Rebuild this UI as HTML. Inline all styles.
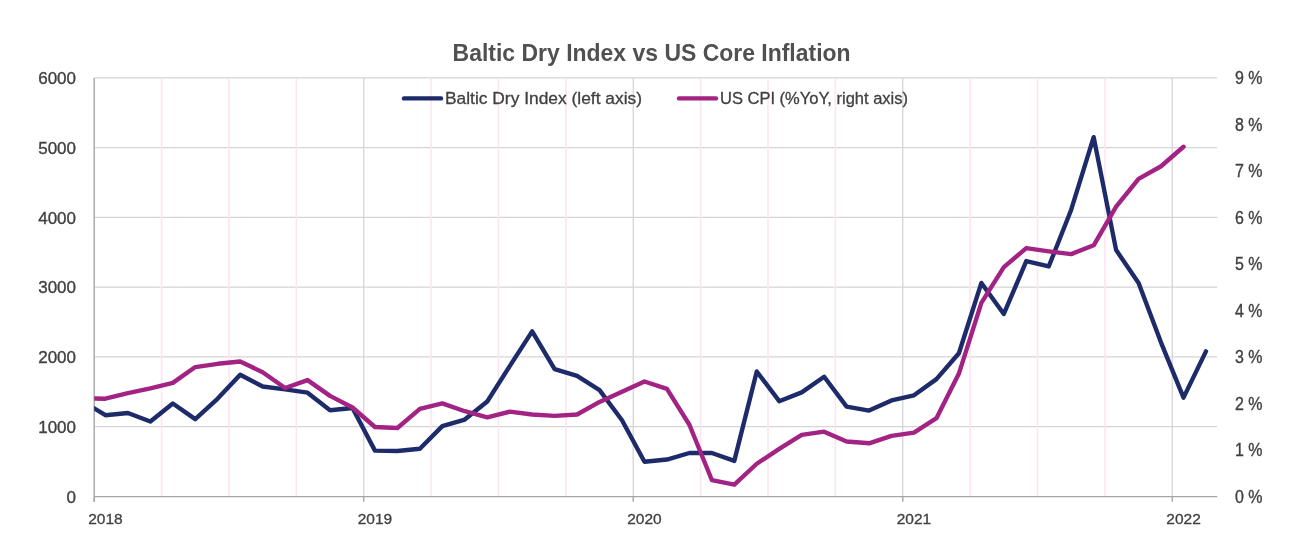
<!DOCTYPE html>
<html><head><meta charset="utf-8"><style>
html,body{margin:0;padding:0;background:#fff;}
svg{display:block;will-change:transform;}
text{font-family:"Liberation Sans",sans-serif;}
.g{stroke:#d5d5d5;stroke-width:1.3;}
.p{stroke:#fce5f2;stroke-width:1.6;}
.ax{stroke:#a6a6a6;stroke-width:1.4;}
.yl{font-size:17px;fill:#404040;stroke:#404040;stroke-width:0.35px;}
.rl{font-size:17.5px;fill:#404040;stroke:#404040;stroke-width:0.35px;}
.xl{font-size:15.5px;fill:#404040;stroke:#404040;stroke-width:0.3px;}
.lg{font-size:17px;fill:#404040;stroke:#404040;stroke-width:0.3px;}
.ser{fill:none;stroke-width:4.4;stroke-linejoin:round;stroke-linecap:round;}
</style></head><body>
<svg width="1315" height="549" viewBox="0 0 1315 549">
<defs><clipPath id="pa"><rect x="94.20" y="0" width="1123.00" height="549"/></clipPath></defs>
<rect width="1315" height="549" fill="#fff"/>
<line x1="94.20" y1="426.57" x2="1217.20" y2="426.57" class="g"/>
<line x1="94.20" y1="356.84" x2="1217.20" y2="356.84" class="g"/>
<line x1="94.20" y1="287.11" x2="1217.20" y2="287.11" class="g"/>
<line x1="94.20" y1="217.38" x2="1217.20" y2="217.38" class="g"/>
<line x1="94.20" y1="147.65" x2="1217.20" y2="147.65" class="g"/>
<line x1="94.20" y1="77.92" x2="1217.20" y2="77.92" class="g"/>
<line x1="161.58" y1="77.92" x2="161.58" y2="496.30" class="p"/>
<line x1="228.96" y1="77.92" x2="228.96" y2="496.30" class="p"/>
<line x1="296.34" y1="77.92" x2="296.34" y2="496.30" class="p"/>
<line x1="363.72" y1="77.92" x2="363.72" y2="496.30" class="g"/>
<line x1="431.10" y1="77.92" x2="431.10" y2="496.30" class="p"/>
<line x1="498.48" y1="77.92" x2="498.48" y2="496.30" class="p"/>
<line x1="565.86" y1="77.92" x2="565.86" y2="496.30" class="p"/>
<line x1="633.24" y1="77.92" x2="633.24" y2="496.30" class="g"/>
<line x1="700.62" y1="77.92" x2="700.62" y2="496.30" class="p"/>
<line x1="768.00" y1="77.92" x2="768.00" y2="496.30" class="p"/>
<line x1="835.38" y1="77.92" x2="835.38" y2="496.30" class="p"/>
<line x1="902.76" y1="77.92" x2="902.76" y2="496.30" class="g"/>
<line x1="970.14" y1="77.92" x2="970.14" y2="496.30" class="p"/>
<line x1="1037.52" y1="77.92" x2="1037.52" y2="496.30" class="p"/>
<line x1="1104.90" y1="77.92" x2="1104.90" y2="496.30" class="p"/>
<line x1="1172.28" y1="77.92" x2="1172.28" y2="496.30" class="g"/>
<line x1="94.20" y1="77.92" x2="94.20" y2="501.80" class="ax"/>
<line x1="94.20" y1="496.6" x2="1217.20" y2="496.6" class="ax"/>
<line x1="94.20" y1="496.60" x2="94.20" y2="501.80" class="ax"/>
<line x1="363.72" y1="496.60" x2="363.72" y2="501.80" class="ax"/>
<line x1="633.24" y1="496.60" x2="633.24" y2="501.80" class="ax"/>
<line x1="902.76" y1="496.60" x2="902.76" y2="501.80" class="ax"/>
<line x1="1172.28" y1="496.60" x2="1172.28" y2="501.80" class="ax"/>
<g clip-path="url(#pa)">
<polyline class="ser" stroke="#1E2B6A" points="82.97,401.54 105.43,415.20 127.89,412.97 150.35,421.55 172.81,403.56 195.27,419.11 217.73,398.61 240.19,374.69 262.65,386.48 285.11,389.40 307.57,392.68 330.03,410.25 352.49,408.02 374.95,450.63 397.41,451.05 419.87,448.74 442.33,426.15 464.79,419.53 487.25,401.54 509.71,366.18 532.17,331.39 554.63,369.11 577.09,375.88 599.55,390.10 622.01,420.22 644.47,461.78 666.93,459.55 689.39,453.00 711.85,453.00 734.31,460.88 756.77,371.48 779.23,401.19 801.69,392.40 824.15,376.71 846.61,406.63 869.07,410.60 891.53,400.42 913.99,395.33 936.45,379.15 958.91,353.28 981.37,282.93 1003.83,313.96 1026.29,261.10 1048.75,266.47 1071.21,209.71 1093.67,137.19 1116.13,250.08 1138.59,282.93 1161.05,342.55 1183.51,397.63 1205.97,351.40"/>
<polyline class="ser" stroke="#A22383" points="82.97,398.21 105.43,398.68 127.89,393.10 150.35,388.45 172.81,382.87 195.27,367.07 217.73,363.81 240.19,361.49 262.65,372.18 285.11,387.99 307.57,380.08 330.03,395.89 352.49,407.51 374.95,427.03 397.41,427.96 419.87,408.91 442.33,403.33 464.79,411.23 487.25,417.27 509.71,411.69 532.17,414.48 554.63,415.88 577.09,414.48 599.55,401.93 622.01,391.71 644.47,381.48 666.93,388.92 689.39,424.71 711.85,480.03 734.31,484.68 756.77,463.76 779.23,448.88 801.69,434.94 824.15,431.68 846.61,441.45 869.07,443.31 891.53,435.87 913.99,432.61 936.45,418.20 958.91,373.58 981.37,302.92 1003.83,267.12 1026.29,248.06 1048.75,251.32 1071.21,254.10 1093.67,245.27 1116.13,206.69 1138.59,178.80 1161.05,166.24 1183.51,146.72"/>
</g>
<text x="76" y="502.60" text-anchor="end" class="yl">0</text>
<text x="76" y="432.87" text-anchor="end" class="yl">1000</text>
<text x="76" y="363.14" text-anchor="end" class="yl">2000</text>
<text x="76" y="293.41" text-anchor="end" class="yl">3000</text>
<text x="76" y="223.68" text-anchor="end" class="yl">4000</text>
<text x="76" y="153.95" text-anchor="end" class="yl">5000</text>
<text x="76" y="84.22" text-anchor="end" class="yl">6000</text>
<text x="1235" y="502.80" class="rl" textLength="27.5" lengthAdjust="spacingAndGlyphs">0 %</text>
<text x="1235" y="456.31" class="rl" textLength="27.5" lengthAdjust="spacingAndGlyphs">1 %</text>
<text x="1235" y="409.83" class="rl" textLength="27.5" lengthAdjust="spacingAndGlyphs">2 %</text>
<text x="1235" y="363.34" class="rl" textLength="27.5" lengthAdjust="spacingAndGlyphs">3 %</text>
<text x="1235" y="316.85" class="rl" textLength="27.5" lengthAdjust="spacingAndGlyphs">4 %</text>
<text x="1235" y="270.37" class="rl" textLength="27.5" lengthAdjust="spacingAndGlyphs">5 %</text>
<text x="1235" y="223.88" class="rl" textLength="27.5" lengthAdjust="spacingAndGlyphs">6 %</text>
<text x="1235" y="177.39" class="rl" textLength="27.5" lengthAdjust="spacingAndGlyphs">7 %</text>
<text x="1235" y="130.91" class="rl" textLength="27.5" lengthAdjust="spacingAndGlyphs">8 %</text>
<text x="1235" y="84.42" class="rl" textLength="27.5" lengthAdjust="spacingAndGlyphs">9 %</text>
<text x="105.43" y="524" text-anchor="middle" class="xl">2018</text>
<text x="374.95" y="524" text-anchor="middle" class="xl">2019</text>
<text x="644.47" y="524" text-anchor="middle" class="xl">2020</text>
<text x="913.99" y="524" text-anchor="middle" class="xl">2021</text>
<text x="1183.51" y="524" text-anchor="middle" class="xl">2022</text>
<text x="452.6" y="61" class="tt" font-size="24" font-weight="bold" fill="#505050" textLength="398" lengthAdjust="spacingAndGlyphs">Baltic Dry Index vs US Core Inflation</text>
<line x1="404" y1="98.4" x2="441" y2="98.4" stroke="#1E2B6A" stroke-width="4.4" stroke-linecap="round"/>
<text x="445" y="103.8" class="lg" textLength="197" lengthAdjust="spacingAndGlyphs">Baltic Dry Index (left axis)</text>
<line x1="679" y1="98.4" x2="716" y2="98.4" stroke="#A22383" stroke-width="4.4" stroke-linecap="round"/>
<text x="720" y="103.8" class="lg" textLength="188" lengthAdjust="spacingAndGlyphs">US CPI (%YoY, right axis)</text>
</svg>
</body></html>
